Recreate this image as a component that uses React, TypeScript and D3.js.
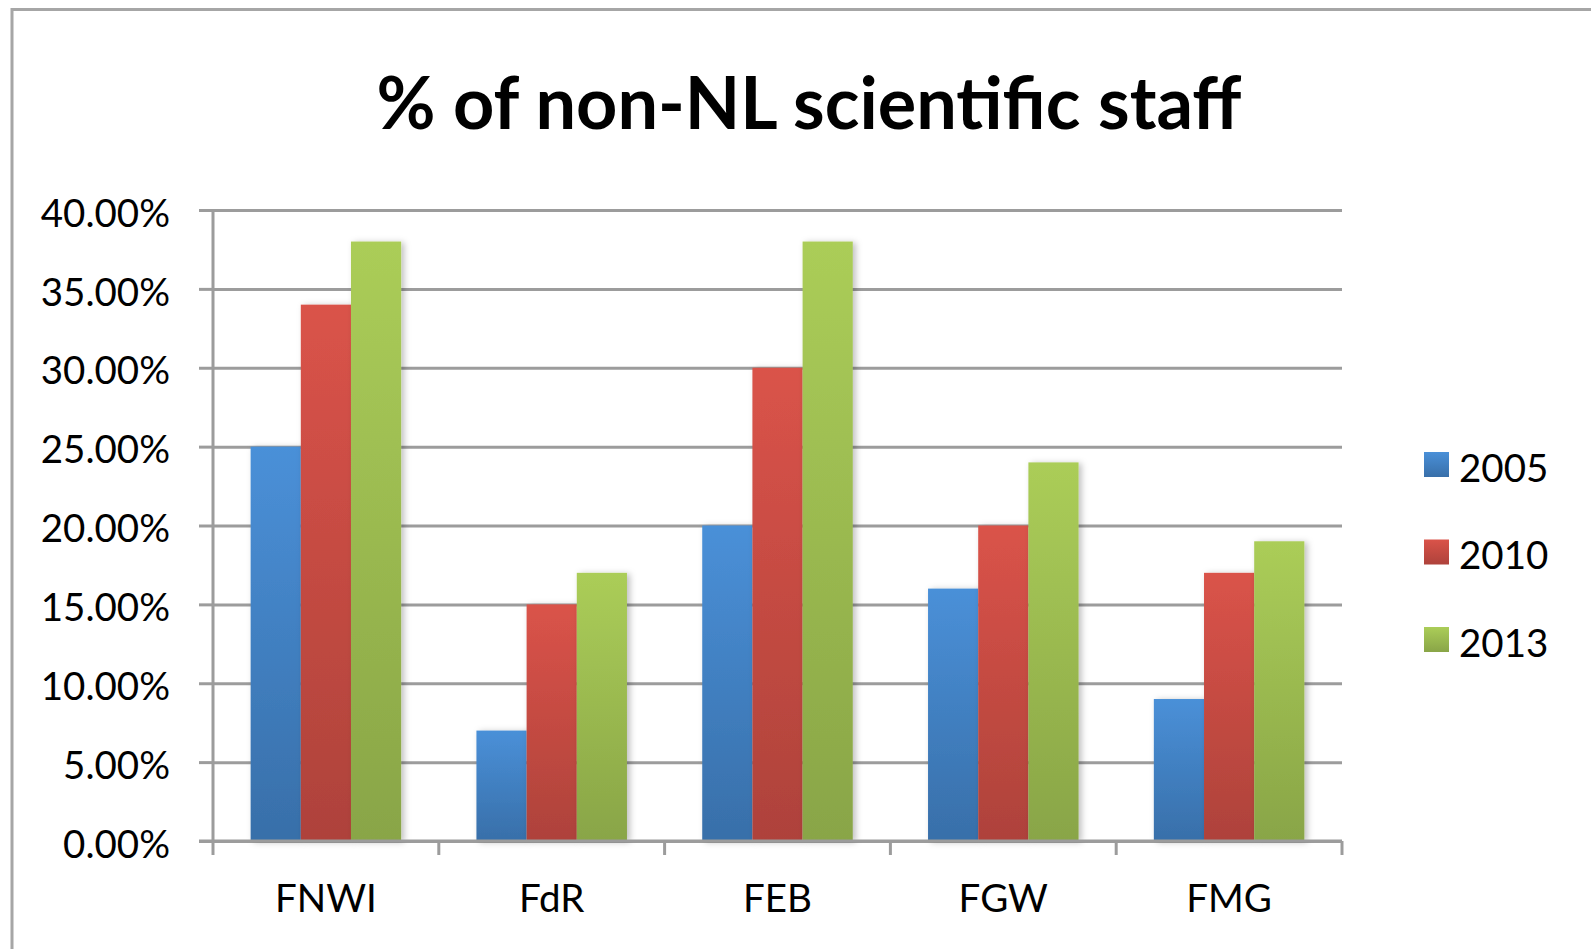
import React, { useRef, useEffect } from "react";
import * as d3 from "d3";

const categories = ["FNWI", "FdR", "FEB", "FGW", "FMG"];
const seriesNames = ["2005", "2010", "2013"];
const values2005 = [25, 7, 20, 16, 9];
const values2010 = [34, 15, 30, 20, 17];
const values2013 = [38, 17, 38, 24, 19];
const yTicks = [0, 5, 10, 15, 20, 25, 30, 35, 40];

const seriesColors = [
  { top: "#4a90d8", bottom: "#386fa9" },
  { top: "#da5349", bottom: "#ae423b" },
  { top: "#abcd58", bottom: "#89a547" },
];

const W = 1591;
const H = 949;
const FONT = "Lato, 'Open Sans', sans-serif";

const App = () => {
  const ref = useRef<SVGSVGElement | null>(null);

  useEffect(() => {
    if (!ref.current) return;
    const svg = d3.select(ref.current);
    svg.selectAll("*").remove();

    const margin = { top: 210, right: 249, bottom: 108, left: 213 };
    const width = W - margin.left - margin.right;
    const height = H - margin.top - margin.bottom;
    const axisColor = "#9c9c9c";

    const defs = svg.append("defs");
    seriesColors.forEach((c, i) => {
      const g = defs
        .append("linearGradient")
        .attr("id", `grad${i}`)
        .attr("x1", 0)
        .attr("y1", 0)
        .attr("x2", 0)
        .attr("y2", 1);
      g.append("stop").attr("offset", "0%").attr("stop-color", c.top);
      g.append("stop").attr("offset", "100%").attr("stop-color", c.bottom);
    });
    const shadow = defs
      .append("filter")
      .attr("id", "shadow")
      .attr("x", "-20%")
      .attr("y", "-10%")
      .attr("width", "150%")
      .attr("height", "120%");
    shadow
      .append("feDropShadow")
      .attr("dx", 3)
      .attr("dy", 1)
      .attr("stdDeviation", 3)
      .attr("flood-color", "#000")
      .attr("flood-opacity", 0.25);

    // outer chart border (cropped at right / bottom)
    svg
      .append("rect")
      .attr("x", 12)
      .attr("y", 9.5)
      .attr("width", W + 20)
      .attr("height", H + 20)
      .attr("fill", "none")
      .attr("stroke", "#a6a6a6")
      .attr("stroke-width", 3);

    // title
    svg
      .append("text")
      .attr("x", 809)
      .attr("y", 129)
      .attr("text-anchor", "middle")
      .style("font-family", FONT)
      .style("font-weight", 700)
      .style("font-size", "72px")
      .style("fill", "#000")
      .text("% of non-NL scientific staff");

    const chart = svg
      .append("g")
      .attr("transform", `translate(${margin.left},${margin.top})`);

    const x0 = d3.scaleBand().domain(categories).range([0, width]).padding(0);
    const x1 = d3
      .scaleBand()
      .domain(seriesNames)
      .range([0, x0.bandwidth()])
      .paddingInner(0)
      .paddingOuter(0.75);
    const y = d3.scaleLinear().domain([0, 40]).range([height, 0]);

    // grid lines
    chart
      .append("g")
      .call(
        d3
          .axisLeft(y)
          .tickValues(yTicks)
          .tickSize(-width)
          .tickFormat(() => "")
      )
      .call((g) => g.select(".domain").remove())
      .call((g) =>
        g
          .selectAll(".tick line")
          .attr("stroke", axisColor)
          .attr("stroke-width", 3)
      );

    // y axis
    chart
      .append("g")
      .call(
        d3
          .axisLeft(y)
          .tickValues(yTicks)
          .tickSize(14)
          .tickPadding(29)
          .tickFormat((d) => `${(+d).toFixed(2)}%`)
      )
      .call((g) =>
        g.select(".domain").attr("stroke", axisColor).attr("stroke-width", 3).attr("d", `M0,0V${height}`)
      )
      .call((g) =>
        g.selectAll(".tick line").attr("stroke", axisColor).attr("stroke-width", 3)
      )
      .selectAll("text")
      .attr("dy", "0.42em")
      .style("font-family", FONT)
      .style("font-size", "38.5px")
      .style("fill", "#000");

    const allValues = [values2005, values2010, values2013];

    // bars
    allValues.forEach((vals, si) => {
      chart
        .selectAll(`.bar-${si}`)
        .data(vals)
        .enter()
        .append("rect")
        .attr("class", `bar-${si}`)
        .attr("x", (_, i) => (x0(categories[i]) || 0) + (x1(seriesNames[si]) || 0))
        .attr("y", (d) => y(d))
        .attr("width", x1.bandwidth())
        .attr("height", (d) => height - y(d))
        .attr("fill", `url(#grad${si})`)
        .attr("filter", "url(#shadow)");
    });

    // x axis
    const boundaries = categories.map((c) => x0(c) || 0).concat([width]);
    chart
      .append("line")
      .attr("x1", -14)
      .attr("x2", width)
      .attr("y1", height)
      .attr("y2", height)
      .attr("stroke", axisColor)
      .attr("stroke-width", 3);
    chart
      .selectAll(".xtick")
      .data(boundaries)
      .enter()
      .append("line")
      .attr("x1", (d) => d)
      .attr("x2", (d) => d)
      .attr("y1", height)
      .attr("y2", height + 14)
      .attr("stroke", axisColor)
      .attr("stroke-width", 3);
    chart
      .selectAll(".xlabel")
      .data(categories)
      .enter()
      .append("text")
      .attr("x", (d) => (x0(d) || 0) + x0.bandwidth() / 2)
      .attr("y", height + 71)
      .attr("text-anchor", "middle")
      .style("font-family", FONT)
      .style("font-size", "38.5px")
      .style("fill", "#000")
      .text((d) => d);

    // legend
    const legend = svg
      .append("g")
      .attr("transform", "translate(1424,452)");
    seriesNames.forEach((name, i) => {
      const item = legend.append("g").attr("transform", `translate(0,${i * 87.5})`);
      item
        .append("rect")
        .attr("width", 25)
        .attr("height", 25)
        .attr("fill", `url(#grad${i})`);
      item
        .append("text")
        .attr("x", 35)
        .attr("y", 29.5)
        .style("font-family", FONT)
        .style("font-size", "38.5px")
        .style("fill", "#000")
        .text(name);
    });
  }, []);

  return (
    <svg
      ref={ref}
      width={W}
      height={H}
      style={{ position: "absolute", left: 0, top: 0, background: "#fff" }}
    />
  );
};

export default App;
